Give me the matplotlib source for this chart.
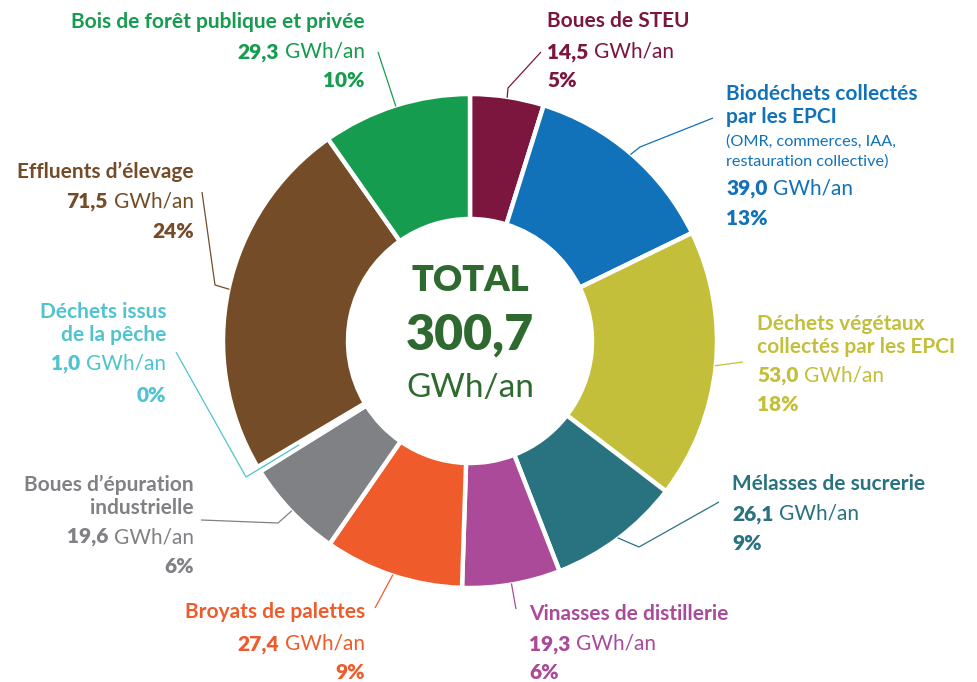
import numpy as np
import matplotlib
matplotlib.use("Agg")
import matplotlib.pyplot as plt

# ---------------- data ----------------
categories = ["Boues de STEU", "Biodéchets collectés par les EPCI", "Déchets végétaux collectés par les EPCI",
              "Mélasses de sucrerie", "Vinasses de distillerie", "Broyats de palettes",
              "Boues d’épuration industrielle", "Déchets issus de la pêche", "Effluents d’élevage",
              "Bois de forêt publique et privée"]
values = [14.5, 39.0, 53.0, 26.1, 19.3, 27.4, 19.6, 1.0, 71.5, 29.3]
value_labels = ["14,5", "39,0", "53,0", "26,1", "19,3", "27,4", "19,6", "1,0", "71,5", "29,3"]
pct_labels = ["5%", "13%", "18%", "9%", "6%", "9%", "6%", "0%", "24%", "10%"]
total_label = "300,7"
colors = ["#7D163F", "#1172B9", "#C3BF3A", "#297280", "#AA4A99", "#EF5B2B",
          "#808184", "#4FC3CF", "#744C28", "#169C4E"]

W, H = 978, 682
FONT = "Lato"

fig = plt.figure(figsize=(W / 100, H / 100), dpi=100)
ax = fig.add_axes([0, 0, 1, 1])

CX, CY = 470, H - 341
R, WIDTH = 247, 125
wedges, _ = ax.pie(values, colors=colors, startangle=90, counterclock=False,
                   radius=R, center=(CX, CY),
                   wedgeprops=dict(width=WIDTH, edgecolor="white", linewidth=3.2))
ax.set_xlim(0, W)
ax.set_ylim(0, H)
ax.set_aspect("equal")
ax.axis("off")

fig.canvas.draw()
renderer = fig.canvas.get_renderer()

def Y(y):
    return H - y

def draw_line(x, y, segs, ha, color, gap=6):
    """segs: list of (text, weight, size). x,y in px (y from top, baseline)."""
    if ha == "left":
        cur = x
        for t, w, s in segs:
            tx = ax.text(cur, Y(y), t, fontsize=s, fontweight=w, color=color,
                         ha="left", va="baseline", family=FONT)
            cur += tx.get_window_extent(renderer).width + gap
    else:
        cur = x
        for t, w, s in reversed(segs):
            tx = ax.text(cur, Y(y), t, fontsize=s, fontweight=w, color=color,
                         ha="right", va="baseline", family=FONT)
            cur -= tx.get_window_extent(renderer).width + gap

FS = 15
FS_SMALL = 11.7
def label(i, x, ys, ha, name_lines, extra_lines=()):
    c = colors[i]
    k = 0
    for nl in name_lines:
        draw_line(x, ys[k], [(nl, "bold", FS)], ha, c)
        k += 1
    for el in extra_lines:
        draw_line(x, ys[k], [(el, "normal", FS_SMALL)], ha, c)
        k += 1
    draw_line(x, ys[k], [(value_labels[i], "heavy", FS), ("GWh/an", "normal", FS)], ha, c)
    k += 1
    draw_line(x, ys[k], [(pct_labels[i], "heavy", FS)], ha, c)

label(0, 547, [27, 58, 87], "left", ["Boues de STEU"])
label(1, 726, [100, 123, 146, 166, 195, 225], "left", ["Biodéchets collectés", "par les EPCI"],
      ["(OMR, commerces, IAA,", "restauration collective)"])
label(2, 757, [330, 353, 382, 411], "left", ["Déchets végétaux", "collectés par les EPCI"])
label(3, 732, [490, 520, 550], "left", ["Mélasses de sucrerie"])
label(4, 529, [620, 650, 679], "left", ["Vinasses de distillerie"])
label(5, 365, [618, 650, 679], "right", ["Broyats de palettes"])
label(6, 194, [491, 514, 543, 573], "right", ["Boues d’épuration", "industrielle"])
label(7, 166, [318, 341, 370, 402], "right", ["Déchets issus", "de la pêche"])
label(8, 194, [178, 208, 238], "right", ["Effluents d’élevage"])
label(9, 365, [28, 58, 87], "right", ["Bois de forêt publique et privée"])

# ---------------- leader lines ----------------
tot = sum(values)
starts = 90 - 360 * np.concatenate([[0], np.cumsum(values)[:-1]]) / tot
mids = starts - 180 * np.array(values) / tot

def anchor(i, r=R):
    a = np.deg2rad(mids[i])
    return CX + r * np.cos(a), CY + r * np.sin(a)

leader_pts = {
    0: [(541, 52), (508, 88)],
    1: [(713, 118), (640, 147)],
    2: [(743, 362)],
    3: [(719, 502), (639, 547)],
    4: [(516, 609)],
    5: [(375, 608)],
    6: [(201, 520), (278, 523)],
    7: [(176, 352), (246, 477)],
    8: [(202, 192), (215, 285)],
    9: [(378, 52)],
}
for i, pts in leader_pts.items():
    xs = [p[0] for p in pts]
    ys = [Y(p[1]) for p in pts]
    r_end = 200 if i == 7 else R - 1
    ax_, ay_ = anchor(i, r_end)
    xs.append(ax_)
    ys.append(ay_)
    ax.plot(xs, ys, color=colors[i], lw=0.9, solid_capstyle="butt", zorder=5)

# ---------------- center ----------------
cg = "#2E6A30"
ax.text(CX, Y(291), "TOTAL", fontsize=26, fontweight="heavy", color=cg, ha="center", va="baseline", family=FONT)
ax.text(CX, Y(350), total_label, fontsize=36, fontweight="heavy", color=cg, ha="center", va="baseline", family=FONT)
ax.text(CX, Y(397), "GWh/an", fontsize=24, fontweight="normal", color=cg, ha="center", va="baseline", family=FONT)

fig.savefig("out.png", dpi=100)
